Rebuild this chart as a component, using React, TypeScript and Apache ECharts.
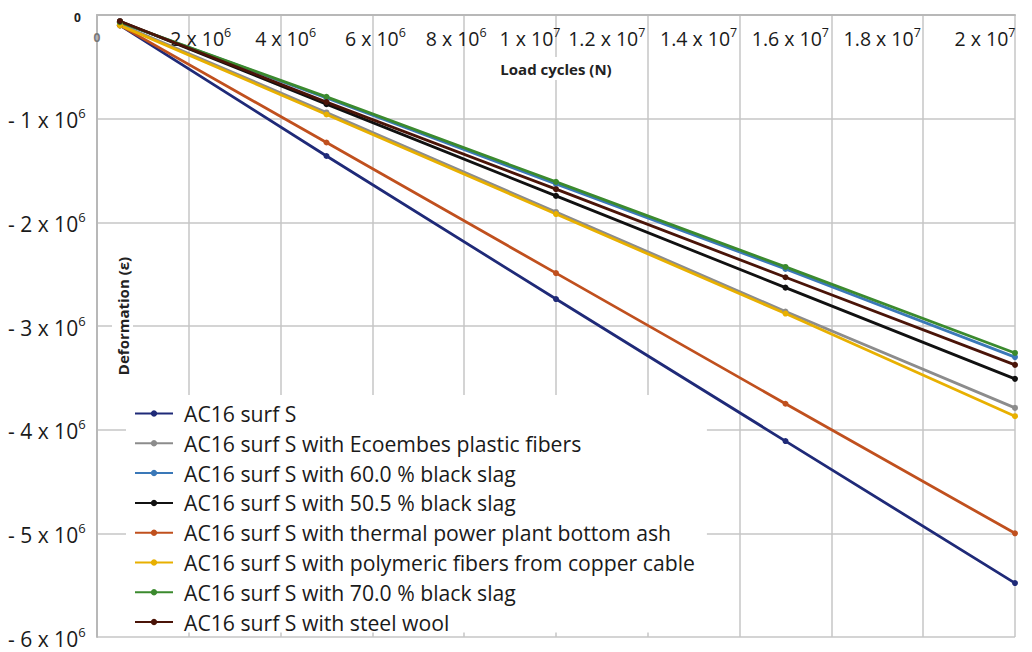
import React, { useEffect, useRef } from "react";
import * as echarts from "echarts";

const loadCycles = [5e5, 5e6, 1e7, 1.5e7, 2e7];

const seriesNames = [
  "AC16 surf S",
  "AC16 surf S with Ecoembes plastic fibers",
  "AC16 surf S with 60.0 % black slag",
  "AC16 surf S with 50.5 % black slag",
  "AC16 surf S with thermal power plant bottom ash",
  "AC16 surf S with polymeric fibers from copper cable",
  "AC16 surf S with 70.0 % black slag",
  "AC16 surf S with steel wool",
];

const acSurfS = [-0.1e6, -1.36e6, -2.74e6, -4.11e6, -5.48e6];
const ecoembesFibers = [-0.09e6, -0.94e6, -1.9e6, -2.86e6, -3.79e6];
const blackSlag60 = [-0.07e6, -0.8e6, -1.63e6, -2.45e6, -3.3e6];
const blackSlag505 = [-0.06e6, -0.86e6, -1.745e6, -2.63e6, -3.51e6];
const bottomAsh = [-0.1e6, -1.23e6, -2.49e6, -3.75e6, -5.0e6];
const copperFibers = [-0.1e6, -0.96e6, -1.92e6, -2.88e6, -3.87e6];
const blackSlag70 = [-0.07e6, -0.79e6, -1.61e6, -2.43e6, -3.26e6];
const steelWool = [-0.06e6, -0.84e6, -1.68e6, -2.53e6, -3.375e6];

const seriesValues = [
  acSurfS,
  ecoembesFibers,
  blackSlag60,
  blackSlag505,
  bottomAsh,
  copperFibers,
  blackSlag70,
  steelWool,
];

const seriesColors = [
  "#1f2a78",
  "#8c8c8c",
  "#3a78b8",
  "#111111",
  "#c0501e",
  "#e8b000",
  "#3b8a2e",
  "#4a1408",
];

const xTickLabels = [
  "0",
  "2 x 10^6",
  "4 x 10^6",
  "6 x 10^6",
  "8 x 10^6",
  "1 x 10^7",
  "1.2 x 10^7",
  "1.4 x 10^7",
  "1.6 x 10^7",
  "1.8 x 10^7",
  "2 x 10^7",
];

const yTickLabels = [
  "- 6 x 10^6",
  "- 5 x 10^6",
  "- 4 x 10^6",
  "- 3 x 10^6",
  "- 2 x 10^6",
  "- 1 x 10^6",
  "0",
];

const X_MIN = 0;
const X_MAX = 2e7;
const X_STEP = 2e6;

const FONT = "'Open Sans', 'Noto Sans', sans-serif";

function toRich(label: string, base: string, supKey: string) {
  const parts = label.split("^");
  if (parts.length < 2) return `{${base}|${parts[0]}}`;
  return `{${base}|${parts[0]}}{${supKey}|${parts[1]}}`;
}

function xShift(v: number) {
  if (v === 0) return 0;
  if (v <= 2e6) return 12;
  if (v <= 4e6) return 5;
  if (v <= 6e6) return 3;
  if (v <= 8e6) return -8;
  if (v <= 1e7) return -26;
  if (v >= 2e7) return -30;
  return -41;
}

function xLabel(v: number) {
  const idx = Math.round(v / X_STEP);
  const label = xTickLabels[idx] ?? "";
  if (v === 0) return `{xz|${label}}`;
  const s = xShift(v);
  const body = toRich(label, "xb", "xs");
  if (s > 0) return `{sp${2 * s}| }` + body;
  if (s < 0) return body + `{sp${-2 * s}| }`;
  return body;
}

const xRich = (() => {
  const r: any = {
    xb: {
      fontFamily: FONT,
      fontSize: 19.5,
      lineHeight: 22,
      verticalAlign: "bottom",
      color: "#1a1a1a",
    },
    xs: {
      fontFamily: FONT,
      fontSize: 12.5,
      lineHeight: 12,
      verticalAlign: "top",
      color: "#1a1a1a",
    },
    xz: {
      fontFamily: FONT,
      fontSize: 12,
      lineHeight: 22,
      fontWeight: "bold",
      color: "#777",
    },
  };
  [24, 10, 6, 16, 52, 60, 82].forEach((w) => {
    r["sp" + w] = { width: w, fontSize: 10, lineHeight: 22 };
  });
  return r;
})();

export default function App() {
  const ref = useRef<HTMLDivElement>(null);

  useEffect(() => {
    if (!ref.current) return;
    const chart = echarts.init(ref.current, undefined, { renderer: "svg" });

    const gridColor = "#c6c6c6";

    const option: any = {
      animation: false,
      backgroundColor: "#ffffff",
      grid: {
        left: 97,
        right: 17,
        top: 15,
        bottom: 15,
        containLabel: false,
        outerBoundsMode: "none",
      },
      legend: {
        orient: "vertical",
        left: 126,
        top: 395,
        padding: [8, 12, 0, 8],
        backgroundColor: "#ffffff",
        itemWidth: 38,
        itemHeight: 8,
        itemGap: 8.8,
        textStyle: {
          fontFamily: FONT,
          fontSize: 21.2,
          lineHeight: 20,
          color: "#1a1a1a",
          padding: [0, 0, 0, 6],
        },
        data: seriesNames,
      },
      xAxis: [
        {
          type: "value",
          position: "top",
          min: X_MIN,
          max: X_MAX,
          interval: X_STEP,
          name: "Load cycles (N)",
          nameLocation: "middle",
          nameGap: -65,
          nameTextStyle: {
            fontFamily: FONT,
            fontSize: 15,
            fontWeight: "bold",
            color: "#222",
            backgroundColor: "#fff",
            padding: [4, 4],
          },
          axisLine: { show: true, lineStyle: { color: "#b8b8b8", width: 2 } },
          axisTick: { show: false },
          splitLine: { show: true, lineStyle: { color: gridColor, width: 1.5 } },
          axisLabel: {
            inside: true,
            margin: 11,
            showMaxLabel: false,
            showMinLabel: true,
            formatter: (v: number) => (v >= X_MAX ? "" : xLabel(v)),
            rich: xRich,
          },
        },
        {
          type: "value",
          position: "top",
          min: X_MIN,
          max: X_MAX,
          interval: X_STEP,
          axisLine: { show: false },
          axisTick: { show: false },
          splitLine: { show: false },
          axisLabel: {
            inside: true,
            margin: 11,
            showMaxLabel: true,
            showMinLabel: false,
            formatter: (v: number) => (v >= X_MAX ? xLabel(v) : ""),
            rich: xRich,
          },
        },
      ],
      yAxis: {
        type: "value",
        min: -6e6,
        max: 0,
        interval: 1e6,
        name: "Deformation (ε)",
        nameLocation: "middle",
        nameGap: -36,
        nameRotate: 90,
        nameTextStyle: {
          fontFamily: FONT,
          fontSize: 15,
          fontWeight: "bold",
          color: "#222",
          backgroundColor: "#fff",
          padding: [3, 4, 3, 24],
        },
        axisLine: { show: true, lineStyle: { color: "#b8b8b8", width: 2 } },
        axisTick: { show: false },
        splitLine: { show: true, lineStyle: { color: gridColor, width: 1.5 } },
        axisLabel: {
          align: "left",
          margin: 89,
          showMaxLabel: true,
          showMinLabel: true,
          formatter: (v: number) => {
            const idx = Math.round((v + 6e6) / 1e6);
            const label = yTickLabels[idx] ?? "";
            if (v === 0) return `{yz|${label}}`;
            return toRich(label, "yb", "ys");
          },
          rich: {
            yb: {
              fontFamily: FONT,
              fontSize: 21,
              lineHeight: 24,
              verticalAlign: "bottom",
              color: "#1a1a1a",
            },
            ys: {
              fontFamily: FONT,
              fontSize: 13,
              lineHeight: 13,
              verticalAlign: "top",
              color: "#1a1a1a",
            },
            yz: {
              fontFamily: FONT,
              fontSize: 12,
              fontWeight: "bold",
              color: "#222",
              padding: [4, 0, 0, 66],
            },
          },
        },
      },
      series: seriesNames.map((name, i) => ({
        name,
        type: "line",
        xAxisIndex: 0,
        data: loadCycles.map((x, j) => [x, seriesValues[i][j]]),
        symbol: "circle",
        symbolSize: 6,
        showSymbol: true,
        lineStyle: { color: seriesColors[i], width: 2.8 },
        itemStyle: { color: seriesColors[i] },
        emphasis: { disabled: true },
      })),
    };

    chart.setOption(option);
    return () => {
      chart.dispose();
    };
  }, []);

  return (
    <div
      ref={ref}
      style={{ position: "fixed", left: 0, top: 0, width: 1032, height: 652 }}
    />
  );
}
